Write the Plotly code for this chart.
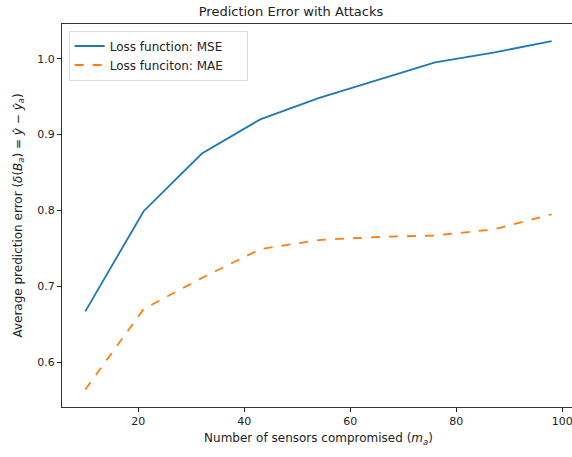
import plotly.graph_objects as go

sensors = [10, 21, 32, 43, 54, 65, 76, 87, 98]
mse = [0.667, 0.799, 0.875, 0.920, 0.948, 0.972, 0.995, 1.008, 1.023]
mae = [0.564, 0.670, 0.711, 0.749, 0.761, 0.765, 0.767, 0.775, 0.795]
x_ticks = [20, 40, 60, 80, 100]
y_ticks = [0.6, 0.7, 0.8, 0.9, 1.0]

FONT = "DejaVu Sans"
W = 576

fig = go.Figure()
fig.add_trace(go.Scatter(x=sensors, y=mse, mode="lines", name="Loss function: MSE&nbsp;&nbsp;&nbsp;&nbsp;&nbsp;",
                         line=dict(color="#1f77b4", width=1.8)))
fig.add_trace(go.Scatter(x=sensors, y=mae, mode="lines", name="Loss funciton: MAE",
                         line=dict(color="#ff7f0e", width=1.8, dash="dash")))

axis_common = dict(showgrid=False, zeroline=False, showline=True, linecolor="#333333",
                   linewidth=1, mirror=True, ticks="outside", ticklen=4, tickwidth=1,
                   automargin=False,
                   tickcolor="#222222", tickfont=dict(family=FONT, size=11, color="#222222"))

fig.update_layout(
    width=W, height=457,
    margin=dict(l=62, r=1, t=24, b=50, autoexpand=False),
    paper_bgcolor="white", plot_bgcolor="white",
    title=dict(text="Prediction Error with Attacks", x=291 / W, xanchor="center", y=0.985, yanchor="top",
               font=dict(family=FONT, size=13, color="#222222")),
    xaxis=dict(range=[5.6, 102.4], tickvals=x_ticks,
               title=dict(text="Number of sensors compromised (<i>m<sub>a</sub></i>)", standoff=6,
                          font=dict(family=FONT, size=12, color="#222222")),
               **axis_common),
    yaxis=dict(range=[0.541, 1.0457], tickvals=y_ticks, tickformat=".1f",
               title=dict(text="Average prediction error (<i>δ</i>(<i>B<sub>a</sub></i>) = <i>ŷ</i> − <i>ŷ<sub>a</sub></i>)",
                          standoff=12, font=dict(family=FONT, size=12, color="#222222")),
               **axis_common),
    legend=dict(x=0.013, y=0.983, xanchor="left", yanchor="top", itemwidth=30,
                bgcolor="rgba(255,255,255,0.8)", bordercolor="#dddddd", borderwidth=1,
                font=dict(family=FONT, size=12, color="#222222")),
    showlegend=True,
)

fig.write_html("out.html", config={"displayModeBar": False},
               post_script="document.body.style.margin='0';document.body.style.overflow='hidden';")
